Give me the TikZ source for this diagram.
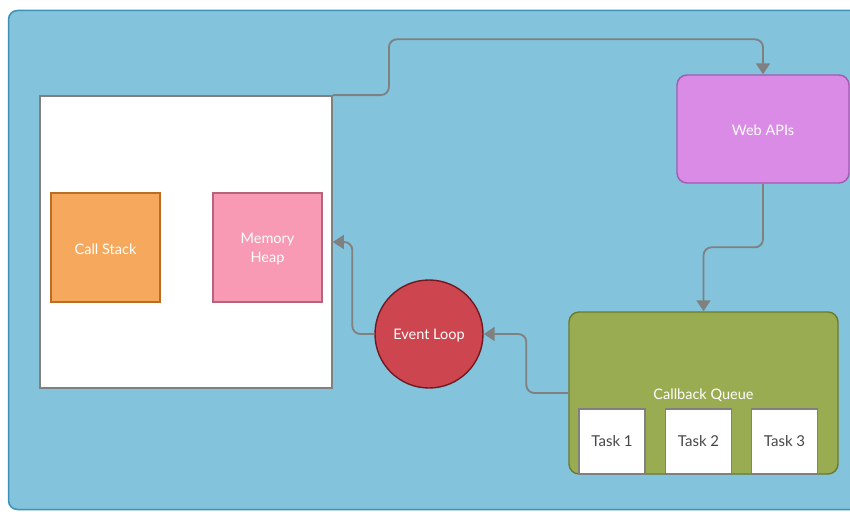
\documentclass[tikz,border=0pt]{standalone}
\usepackage{fontspec}
\setmainfont{Lato}
\usetikzlibrary{arrows.meta,calc}

\definecolor{bgblue}{HTML}{83C3DC}
\definecolor{bgedge}{HTML}{3E92B9}
\definecolor{wire}{HTML}{808080}
\definecolor{stackfill}{HTML}{F6A95C}
\definecolor{stackedge}{HTML}{BC6D22}
\definecolor{heapfill}{HTML}{F89AB3}
\definecolor{heapedge}{HTML}{B5647C}
\definecolor{apifill}{HTML}{D98BE6}
\definecolor{apiedge}{HTML}{A35AB2}
\definecolor{queuefill}{HTML}{99AC52}
\definecolor{queueedge}{HTML}{6A7A2E}
\definecolor{loopfill}{HTML}{CC454F}
\definecolor{loopedge}{HTML}{701A20}
\definecolor{tasktext}{HTML}{474747}

\tikzset{
  conn/.style={draw=wire, line width=1.8pt, rounded corners=8pt,
    -{Triangle[length=11pt,width=14pt]}},
  label/.style={text=white, font=\fontsize{14.5}{17}\selectfont},
  block/.style={draw, line width=1.4pt, inner sep=0pt},
  taskbox/.style={draw=wire, fill=white, line width=1.8pt, inner sep=0pt,
    minimum width=66pt, minimum height=65pt, text=tasktext,
    font=\fontsize{15}{17}\selectfont},
}

\begin{document}
\begin{tikzpicture}[x=1pt, y=-1pt]
  % page and blue panel
  \fill[white] (0,0) rectangle (850,511);
  \useasboundingbox (0,0) rectangle (850,511);
  \begin{scope}
    \clip (0,0) rectangle (850,511);
    \draw[fill=bgblue, draw=bgedge, line width=1.5pt, rounded corners=9pt]
      (8.5,10.5) rectangle (880,509.5);
  \end{scope}

  % JavaScript engine
  \node[draw=wire, fill=white, line width=1.8pt, minimum width=292pt,
        minimum height=292pt, inner sep=0pt] (engine) at (186,242) {};
  \node[block, draw=stackedge, fill=stackfill, minimum width=109pt,
        minimum height=109pt] (stack) at (105.5,247.5) {};
  \node[label] (stacktext) at (105.5,249) {Call Stack};
  \node[block, draw=heapedge, fill=heapfill, minimum width=109pt,
        minimum height=109pt] (heap) at (267.5,247.5) {};
  \node[label, align=center] (heaptext) at (267.5,249) {Memory\\[2pt]Heap};

  % Web APIs
  \node[block, draw=apiedge, fill=apifill, rounded corners=10pt,
        minimum width=172pt, minimum height=108pt] (web) at (763,129) {};
  \node[label] (webtext) at (763,130.5) {Web APIs};

  % Callback queue with its tasks
  \node[block, draw=queueedge, fill=queuefill, rounded corners=10pt,
        minimum width=269pt, minimum height=162pt] (queue) at (703.5,393) {};
  \node[label] (qlabel) at (703.5,395) {Callback Queue};
  \node[taskbox] (task1) at (612,441.5) {Task 1};
  \node[taskbox] (task2) at (698.5,441.5) {Task 2};
  \node[taskbox] (task3) at (784.5,441.5) {Task 3};

  % Event loop
  \node[circle, draw=loopedge, fill=loopfill, line width=1.4pt,
        minimum size=108pt, inner sep=0pt] (loop) at (429,334) {};
  \node[label] (looptext) at (429,335.5) {Event Loop};

  % connectors
  \draw[conn] (engine.north east) -- ++(56,0) |- ($(web.north)+(0,-35)$) -- (web.north);
  \draw[conn] (web.south) |- ($(queue.north)+(0,-64)$) -- (queue.north);
  \draw[conn] (queue.west) -- ++(-42,0) |- (loop.east);
  \draw[conn] (loop.west) -- ++(-22,0) |- (engine.east);
\end{tikzpicture}
\end{document}
